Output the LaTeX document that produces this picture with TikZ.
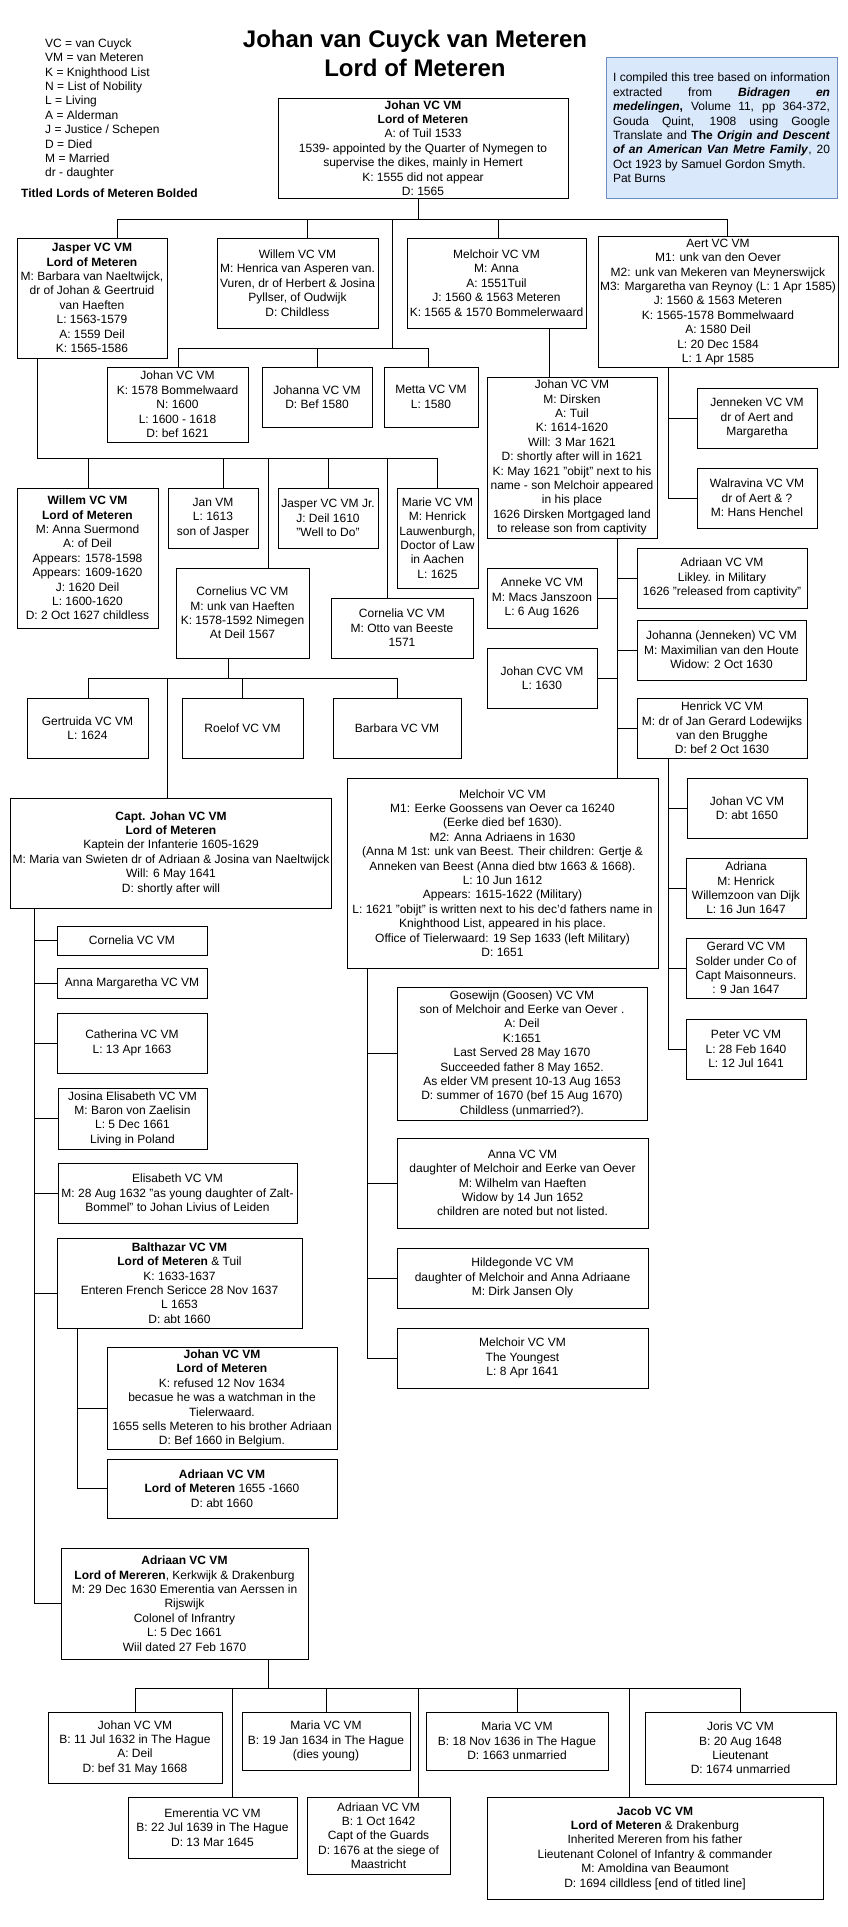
\documentclass[tikz,border=0pt]{standalone}
\usepackage{fontspec}
\setmainfont{Liberation Sans}
\definecolor{infofill}{HTML}{DAE8FC}
\definecolor{infoline}{HTML}{6C8EBF}
\newcommand\tnode[6]{%
 \pgfmathsetmacro\tnw{#4-#2}%
 \pgfmathsetmacro\tnh{#5-#3}%
 \pgfmathsetmacro\tnx{(#2+#4)/2}%
 \pgfmathsetmacro\tny{(#3+#5)/2}%
 \node[box,minimum width=\tnw pt,minimum height=\tnh pt] (#1) at (\tnx,\tny) {#6};}
\begin{document}
\begin{tikzpicture}[x=1pt,y=-1pt,
  box/.style={draw,line width=1pt,fill=white,inner sep=2pt,align=center,font=\fontsize{12}{14.4}\selectfont},
  conn/.style={draw,line width=1pt},
  infobox/.style={draw=infoline,fill=infofill,line width=1pt,inner sep=0pt,align=left,font=\fontsize{12}{14.4}\selectfont},
  plain/.style={inner sep=0pt,align=left,font=\fontsize{12}{14.4}\selectfont}]
\useasboundingbox[fill=white] (0,0) rectangle (848,1927);

% legend and title
\node[plain,anchor=north west] (legend) at (45,38.5) {VC = van Cuyck\\VM = van Meteren\\K = Knighthood List\\N = List of Nobility\\L = Living\\A = Alderman\\J = Justice / Schepen\\D = Died\\M = Married\\dr - daughter};
\node[plain,anchor=west,font=\fontsize{12}{14.4}\selectfont\bfseries] (bolded) at (21,193) {Titled Lords of Meteren Bolded};
\node[inner sep=0pt,align=center,font=\fontsize{24}{29}\selectfont\bfseries] (title) at (415,53) {Johan van Cuyck van Meteren\\Lord of Meteren};
\node[infobox,minimum width=231pt,minimum height=140pt] (info) at (721.5,128) {%
\makebox[217pt][s]{I compiled this tree based on information}\\
\makebox[217pt][s]{extracted from \textbf{\textit{Bidragen}} \textbf{\textit{en}}}\\
\makebox[217pt][s]{\textbf{\textit{medelingen},} Volume 11, pp 364-372,}\\
\makebox[217pt][s]{Gouda Quint, 1908 using Google}\\
\makebox[217pt][s]{Translate and \textbf{The} \textbf{\textit{Origin}} \textbf{\textit{and}} \textbf{\textit{Descent}}}\\
\makebox[217pt][s]{\textbf{\textit{of an American Van Metre Family}}, 20}\\
\makebox[217pt][l]{Oct 1923 by Samuel Gordon Smyth.}\\
\makebox[217pt][l]{Pat Burns}};

% generation 1
\tnode{top}{278}{98}{568}{198}{\textbf{Johan VC VM}\\\textbf{Lord of Meteren}\\A: of Tuil 1533\\1539- appointed by the Quarter of Nymegen to\\supervise the dikes, mainly in Hemert\\K: 1555 did not appear\\D: 1565}
% generation 2
\tnode{jasper}{17}{238}{167}{358}{\textbf{Jasper VC VM}\\\textbf{Lord of Meteren}\\M: Barbara van Naeltwijck,\\dr of Johan \& Geertruid\\van Haeften\\L: 1563-1579\\A: 1559 Deil\\K: 1565-1586}
\tnode{willem}{217}{238}{378}{328}{Willem VC VM\\M: Henrica van Asperen van.\\Vuren, dr of Herbert \& Josina\\Pyllser, of Oudwijk\\D: Childless}
\tnode{melch}{407}{238}{586}{328}{Melchoir VC VM\\M: Anna\\A: 1551Tuil\\J: 1560 \& 1563 Meteren\\K: 1565 \& 1570 Bommelerwaard}
\tnode{aert}{598}{237}{838}{367}{Aert VC VM\\M1: unk van den Oever\\M2: unk van Mekeren van Meynerswijck\\M3: Margaretha van Reynoy (L: 1 Apr 1585)\\J: 1560 \& 1563 Meteren\\K: 1565-1578 Bommelwaard\\A: 1580 Deil\\L: 20 Dec 1584\\L: 1 Apr 1585}
\tnode{johanb}{107}{367}{248}{442}{Johan VC VM\\K: 1578 Bommelwaard\\N: 1600\\L: 1600 - 1618\\D: bef 1621}
\tnode{johanna}{262}{367}{372}{427}{Johanna VC VM\\D: Bef 1580}
\tnode{metta}{384}{367}{478}{427}{Metta VC VM\\L: 1580}
% Melchior and Aert children
\tnode{johand}{487}{377}{657}{538}{Johan VC VM\\M: Dirsken\\A: Tuil\\K: 1614-1620\\Will: 3 Mar 1621\\D: shortly after will in 1621\\K: May 1621 "obijt" next to his\\name - son Melchoir appeared\\in his place\\1626 Dirsken Mortgaged land\\to release son from captivity}
\tnode{jenneken}{697}{388}{817}{448}{Jenneken VC VM\\dr of Aert and\\Margaretha}
\tnode{walravina}{697}{468}{817}{528}{Walravina VC VM\\dr of Aert \& ?\\M: Hans Henchel}
% Jasper children
\tnode{willemL}{17}{488}{158}{628}{\textbf{Willem VC VM}\\\textbf{Lord of Meteren}\\M: Anna Suermond\\A: of Deil\\Appears: 1578-1598\\Appears: 1609-1620\\J: 1620 Deil\\L: 1600-1620\\D: 2 Oct 1627 childless}
\tnode{jan}{168}{488}{258}{548}{Jan VM\\L: 1613\\son of Jasper}
\tnode{jasperjr}{278}{488}{378}{548}{Jasper VC VM Jr.\\J: Deil 1610\\"Well to Do"}
\tnode{marie}{397}{488}{478}{588}{Marie VC VM\\M: Henrick\\Lauwenburgh,\\Doctor of Law\\in Aachen\\L: 1625}
\tnode{cornelius}{176}{568}{309}{658}{Cornelius VC VM\\M: unk van Haeften\\K: 1578-1592 Nimegen\\At Deil 1567}
\tnode{cornelia}{331}{598}{473}{658}{Cornelia VC VM\\M: Otto van Beeste\\1571}
% Johan Dirsken children
\tnode{anneke}{487}{568}{597}{628}{Anneke VC VM\\M: Macs Janszoon\\L: 6 Aug 1626}
\tnode{johancvc}{487}{648}{597}{708}{Johan CVC VM\\L: 1630}
\tnode{adriaanmil}{637}{548}{807}{608}{Adriaan VC VM\\Likley. in Military\\1626 "released from captivity"}
\tnode{johannaj}{637}{620}{806}{680}{Johanna (Jenneken) VC VM\\M: Maximilian van den Houte\\Widow: 2 Oct 1630}
\tnode{henrick}{637}{698}{807}{758}{Henrick VC VM\\M: dr of Jan Gerard Lodewijks\\van den Brugghe\\D: bef 2 Oct 1630}
% Cornelius children
\tnode{gertruida}{27}{698}{148}{758}{Gertruida VC VM\\L: 1624}
\tnode{roelof}{182}{698}{303}{758}{Roelof VC VM}
\tnode{barbara}{333}{698}{461}{758}{Barbara VC VM}
\tnode{captjohan}{11}{798}{331}{908}{\textbf{Capt. Johan VC VM}\\\textbf{Lord of Meteren}\\Kaptein der Infanterie 1605-1629\\M: Maria van Swieten dr of Adriaan \& Josina van Naeltwijck\\Will: 6 May 1641\\D: shortly after will}
% Melchior 2
\tnode{melch2}{347}{778}{658}{968}{Melchoir VC VM\\M1: Eerke Goossens van Oever ca 16240\\(Eerke died bef 1630).\\M2: Anna Adriaens in 1630\\(Anna M 1st: unk van Beest. Their children: Gertje \&\\Anneken van Beest (Anna died btw 1663 \& 1668).\\L: 10 Jun 1612\\Appears: 1615-1622 (Military)\\L: 1621 "obijt" is written next to his dec'd fathers name in\\Knighthood List, appeared in his place.\\Office of Tielerwaard: 19 Sep 1633 (left Military)\\D: 1651}
% Henrick children
\tnode{johanabt}{687}{778}{807}{838}{Johan VC VM\\D: abt 1650}
\tnode{adriana}{686}{858}{806}{918}{Adriana\\M: Henrick\\Willemzoon van Dijk\\L: 16 Jun 1647}
\tnode{gerard}{686}{938}{806}{998}{Gerard VC VM\\Solder under Co of\\Capt Maisonneurs.\\: 9 Jan 1647}
\tnode{peter}{686}{1019}{806}{1079}{Peter VC VM\\L: 28 Feb 1640\\L: 12 Jul 1641}
% Melchior 2 children
\tnode{gosewijn}{397}{987}{647}{1120}{Gosewijn (Goosen) VC VM\\son of Melchoir and Eerke van Oever .\\A: Deil\\K:1651\\Last Served 28 May 1670\\Succeeded father 8 May 1652.\\As elder VM present 10-13 Aug 1653\\D: summer of 1670 (bef 15 Aug 1670)\\Childless (unmarried?).}
\tnode{anna}{397}{1138}{648}{1228}{Anna VC VM\\daughter of Melchoir and Eerke van Oever\\M: Wilhelm van Haeften\\Widow by 14 Jun 1652\\children are noted but not listed.}
\tnode{hildegonde}{397}{1248}{648}{1308}{Hildegonde VC VM\\daughter of Melchoir and Anna Adriaane\\M: Dirk Jansen Oly}
\tnode{melch3}{397}{1328}{648}{1388}{Melchoir VC VM\\The Youngest\\L: 8 Apr 1641}
% Capt Johan children
\tnode{corneliac}{57}{926}{207}{955}{Cornelia VC VM}
\tnode{annamarg}{57}{968}{207}{998}{Anna Margaretha VC VM}
\tnode{catherina}{57}{1013}{207}{1073}{Catherina VC VM\\L: 13 Apr 1663}
\tnode{josina}{58}{1088}{207}{1149}{Josina Elisabeth VC VM\\M: Baron von Zaelisin\\L: 5 Dec 1661\\Living in Poland}
\tnode{elisabeth}{58}{1163}{297}{1223}{Elisabeth VC VM\\M: 28 Aug 1632 "as young daughter of Zalt-\\Bommel" to Johan Livius of Leiden}
\tnode{balthazar}{57}{1238}{302}{1328}{\textbf{Balthazar VC VM}\\\textbf{Lord of Meteren} \& Tuil\\K: 1633-1637\\Enteren French Sericce 28 Nov 1637\\L 1653\\D: abt 1660}
\tnode{johanL}{107}{1349}{337}{1448}{\textbf{Johan VC VM}\\\textbf{Lord of Meteren}\\K: refused 12 Nov 1634\\becasue he was a watchman in the\\Tielerwaard.\\1655 sells Meteren to his brother Adriaan\\D: Bef 1660 in Belgium.}
\tnode{adriaanL}{107}{1459}{337}{1518}{\textbf{Adriaan VC VM}\\\textbf{Lord of Meteren} 1655 -1660\\D: abt 1660}
\tnode{adriaanM}{61}{1548}{308}{1659}{\textbf{Adriaan VC VM}\\\textbf{Lord of Mereren}, Kerkwijk \& Drakenburg\\M: 29 Dec 1630 Emerentia van Aerssen in\\Rijswijk\\Colonel of Infrantry\\L: 5 Dec 1661\\Wiil dated 27 Feb 1670}
% Adriaan children
\tnode{johanB}{48}{1712}{222}{1783}{Johan VC VM\\B: 11 Jul 1632 in The Hague\\A: Deil\\D: bef 31 May 1668}
\tnode{mariaA}{242}{1712}{410}{1770}{Maria VC VM\\B: 19 Jan 1634 in The Hague\\(dies young)}
\tnode{mariaB}{426}{1712}{608}{1770}{Maria VC VM\\B: 18 Nov 1636 in The Hague\\D: 1663 unmarried}
\tnode{joris}{645}{1712}{836}{1784}{Joris VC VM\\B: 20 Aug 1648\\Lieutenant\\D: 1674 unmarried}
\tnode{emerentia}{128}{1797}{297}{1858}{Emerentia VC VM\\B: 22 Jul 1639 in The Hague\\D: 13 Mar 1645}
\tnode{adriaanB}{307}{1797}{450}{1874}{Adriaan VC VM\\B: 1 Oct 1642\\Capt of the Guards\\D: 1676 at the siege of\\Maastricht}
\tnode{jacob}{487}{1797}{823}{1899}{\textbf{Jacob VC VM}\\\textbf{Lord of Meteren} \& Drakenburg\\Inherited Mereren from his father\\Lieutenant Colonel of Infantry \& commander\\M: Amoldina van Beaumont\\D: 1694 cilldless [end of titled line]}

% ---------- connectors ----------
% top bus
\coordinate (t0) at (418,219);
\coordinate (b1a) at (117,219);
\coordinate (b1w) at (307,219);
\coordinate (tr1) at (392,219);
\coordinate (b1m) at (498,219);
\coordinate (b1b) at (727,219);
\draw[conn] (top.south -| t0) -- (t0);
\draw[conn] (b1a) -- (b1b);
\draw[conn] (b1a) -- (jasper.north -| b1a);
\draw[conn] (b1w) -- (willem.north -| b1w);
\draw[conn] (b1m) -- (melch.north -| b1m);
\draw[conn] (b1b) -- (aert.north -| b1b);
\coordinate (tr2) at (392,348);
\coordinate (b2a) at (178,348);
\coordinate (b2c) at (317,348);
\coordinate (b2b) at (428,348);
\draw[conn] (tr1) -- (tr2);
\draw[conn] (b2a) -- (b2b);
\draw[conn] (b2a) -- (johanb.north -| b2a);
\draw[conn] (b2c) -- (johanna.north -| b2c);
\draw[conn] (b2b) -- (metta.north -| b2b);
% Melchior -> Johan Dirsken
\coordinate (m1) at (549,330);
\draw[conn] (melch.south -| m1) -- (johand.north -| m1);
% Aert children
\coordinate (a1) at (668,498);
\draw[conn] (aert.south -| a1) -- (a1);
\draw[conn] (jenneken.west) -- (jenneken.west -| a1);
\draw[conn] (walravina.west) -- (a1);
% Johan Dirsken children
\coordinate (jd) at (617,600);
\draw[conn] (johand.south -| jd) -- (melch2.north -| jd);
\draw[conn] (adriaanmil.west) -- (adriaanmil.west -| jd);
\draw[conn] (anneke.east) -- (anneke.east -| jd);
\draw[conn] (johannaj.west) -- (johannaj.west -| jd);
\draw[conn] (johancvc.east) -- (johancvc.east -| jd);
\draw[conn] (henrick.west) -- (henrick.west -| jd);
% Henrick children
\coordinate (hk) at (668,900);
\draw[conn] (henrick.south -| hk) -- (peter.west -| hk);
\draw[conn] (johanabt.west) -- (johanabt.west -| hk);
\draw[conn] (adriana.west) -- (adriana.west -| hk);
\draw[conn] (gerard.west) -- (gerard.west -| hk);
\draw[conn] (peter.west) -- (peter.west -| hk);
% Melchior 2 children
\coordinate (mk) at (367,1100);
\draw[conn] (melch2.south -| mk) -- (melch3.west -| mk);
\draw[conn] (gosewijn.west) -- (gosewijn.west -| mk);
\draw[conn] (anna.west) -- (anna.west -| mk);
\draw[conn] (hildegonde.west) -- (hildegonde.west -| mk);
\draw[conn] (melch3.west) -- (melch3.west -| mk);
% Jasper children
\coordinate (j3a) at (37,458);
\coordinate (j3w) at (88,458);
\coordinate (j3j) at (223,458);
\coordinate (j3c) at (268,458);
\coordinate (j3r) at (328,458);
\coordinate (j3o) at (387,458);
\coordinate (j3b) at (437,458);
\draw[conn] (jasper.south -| j3a) -- (j3a) -- (j3b);
\draw[conn] (j3w) -- (willemL.north -| j3w);
\draw[conn] (j3j) -- (jan.north -| j3j);
\draw[conn] (j3c) -- (cornelius.north -| j3c);
\draw[conn] (j3r) -- (jasperjr.north -| j3r);
\draw[conn] (j3o) -- (cornelia.north -| j3o);
\draw[conn] (j3b) -- (marie.north -| j3b);
% Cornelius children
\coordinate (c4) at (228,678);
\coordinate (c4a) at (88,678);
\coordinate (c4j) at (167,678);
\coordinate (c4r) at (242,678);
\coordinate (c4b) at (397,678);
\draw[conn] (cornelius.south -| c4) -- (c4);
\draw[conn] (c4a) -- (c4b);
\draw[conn] (c4a) -- (gertruida.north -| c4a);
\draw[conn] (c4j) -- (captjohan.north -| c4j);
\draw[conn] (c4r) -- (roelof.north -| c4r);
\draw[conn] (c4b) -- (barbara.north -| c4b);
% Capt Johan children
\coordinate (cj) at (34,1000);
\draw[conn] (captjohan.south -| cj) -- (adriaanM.west -| cj);
\draw[conn] (corneliac.west) -- (corneliac.west -| cj);
\draw[conn] (annamarg.west) -- (annamarg.west -| cj);
\draw[conn] (catherina.west) -- (catherina.west -| cj);
\draw[conn] (josina.west) -- (josina.west -| cj);
\draw[conn] (elisabeth.west) -- (elisabeth.west -| cj);
\draw[conn] ([yshift=-10pt]balthazar.west) -- ([yshift=-10pt]balthazar.west -| cj);
\draw[conn] (adriaanM.west) -- (adriaanM.west -| cj);
% Balthazar children
\coordinate (bz) at (77,1400);
\draw[conn] (balthazar.south -| bz) -- (adriaanL.west -| bz);
\draw[conn] ([yshift=-10pt]johanL.west) -- ([yshift=-10pt]johanL.west -| bz);
\draw[conn] (adriaanL.west) -- (adriaanL.west -| bz);
% Adriaan children
\coordinate (ad) at (268,1688);
\coordinate (b5a) at (135,1688);
\coordinate (b5e) at (232,1688);
\coordinate (b5m) at (326,1688);
\coordinate (b5d) at (418,1688);
\coordinate (b5n) at (517,1688);
\coordinate (b5j) at (629,1688);
\coordinate (b5b) at (740,1688);
\draw[conn] (adriaanM.south -| ad) -- (ad);
\draw[conn] (b5a) -- (b5b);
\draw[conn] (b5a) -- (johanB.north -| b5a);
\draw[conn] (b5e) -- (emerentia.north -| b5e);
\draw[conn] (b5m) -- (mariaA.north -| b5m);
\draw[conn] (b5d) -- (adriaanB.north -| b5d);
\draw[conn] (b5n) -- (mariaB.north -| b5n);
\draw[conn] (b5j) -- (jacob.north -| b5j);
\draw[conn] (b5b) -- (joris.north -| b5b);
\end{tikzpicture}
\end{document}
